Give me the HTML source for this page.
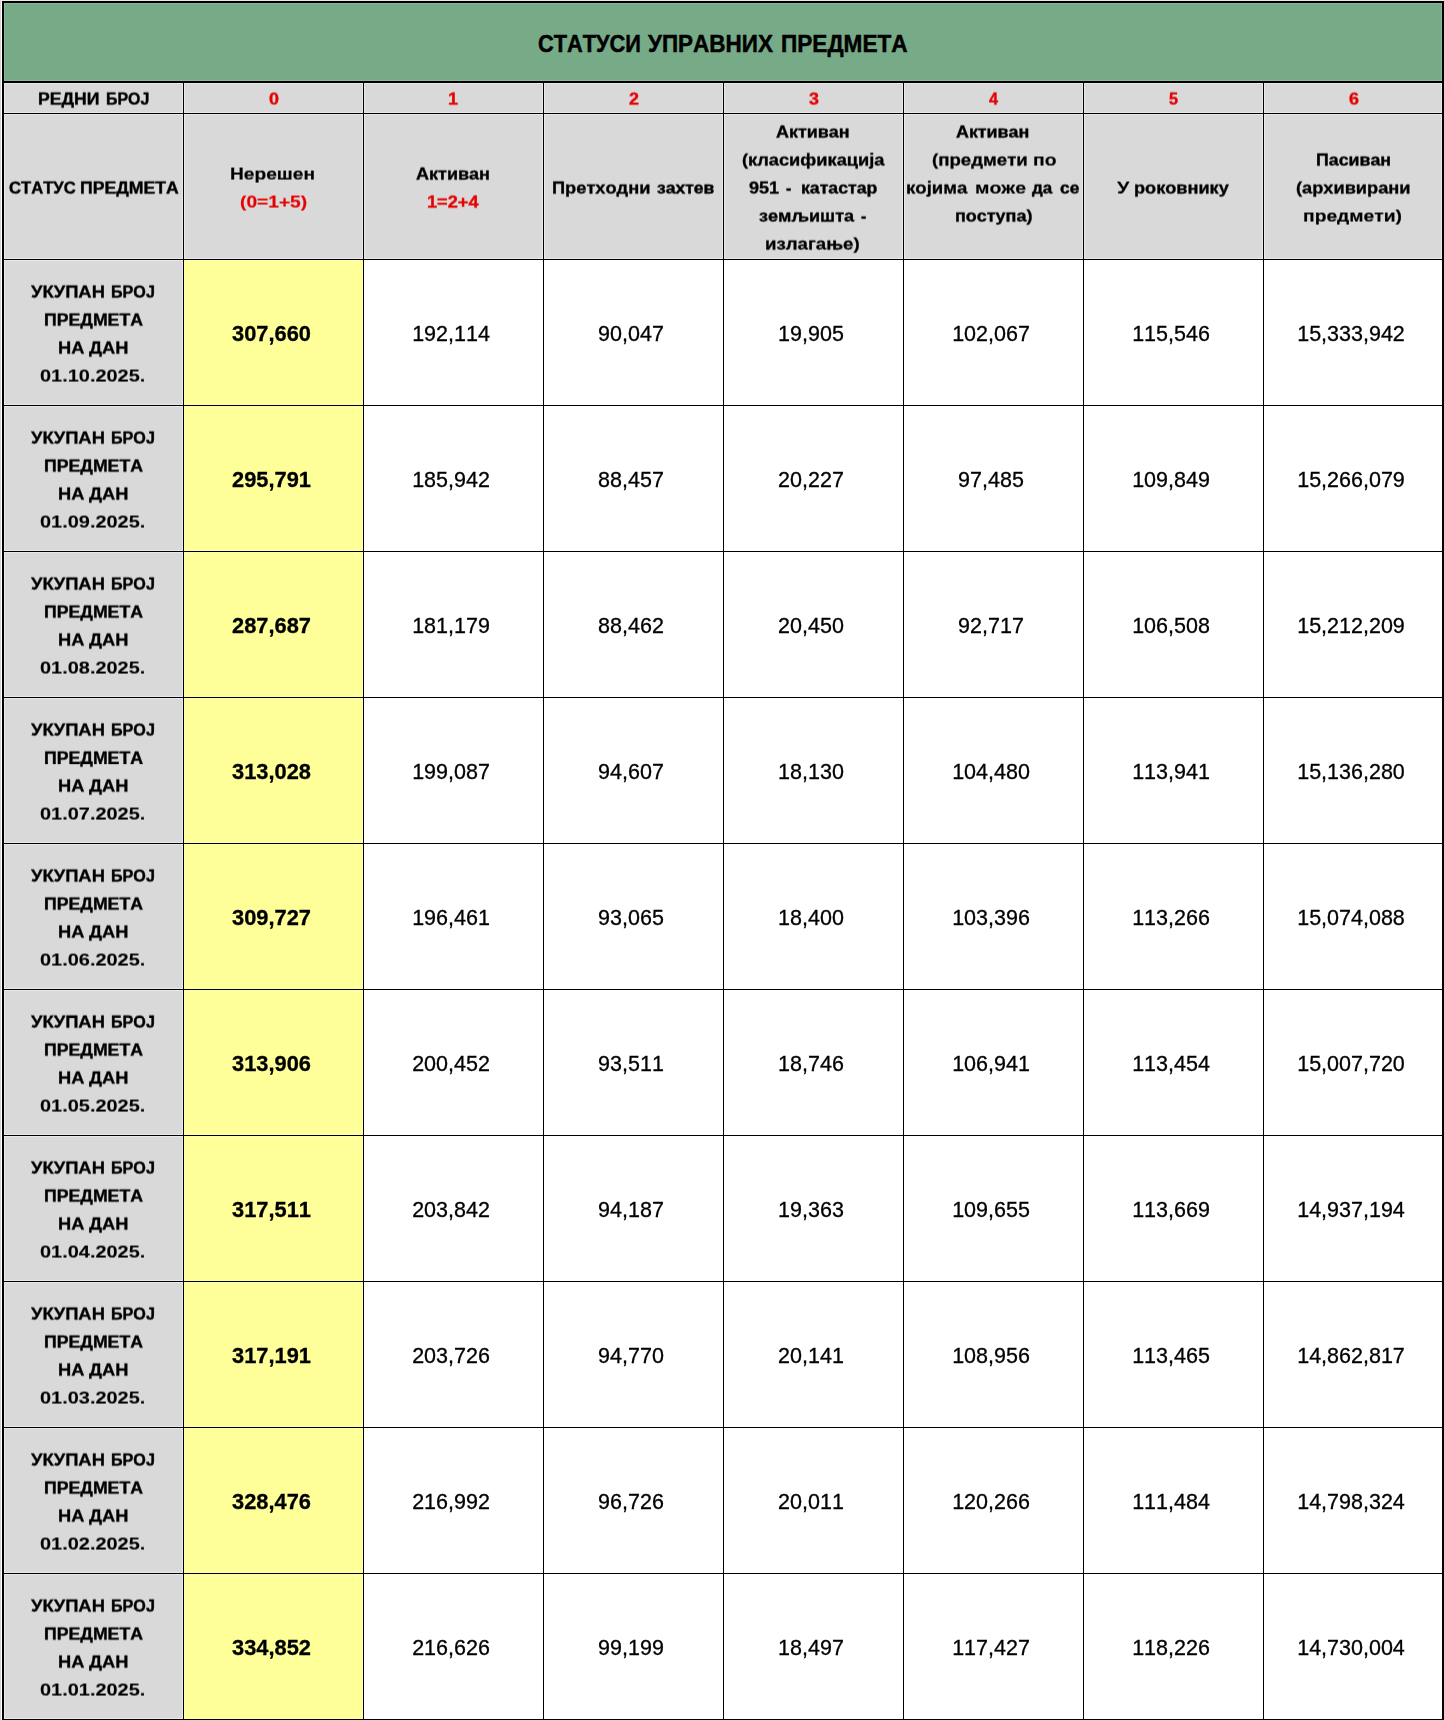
<!DOCTYPE html>
<html lang="sr"><head><meta charset="utf-8"><title>Статуси управних предмета</title>
<style>
html,body{margin:0;padding:0;background:#fff;}
body{width:1444px;height:1720px;position:relative;overflow:hidden;font-family:"Liberation Sans", sans-serif;font-kerning:none;}
.b{position:absolute;}
.gn{background:#77ab88;box-shadow:inset 0 0 0 1px #89b598;}
.gy{background:#d9d9d9;box-shadow:inset 0 0 0 1px #e9e9e9;}
.yl{background:#ffff99;box-shadow:inset 0 0 0 1px #ffffb0;}
.k{position:absolute;background:#000;}
.t{position:absolute;white-space:pre;line-height:1;transform-origin:0 0;font-weight:bold;color:#000;-webkit-text-stroke:0.35px currentColor;}
.tt{-webkit-text-stroke:0.5px currentColor;}
.r{color:#e60000;}
.sh{position:absolute;left:0;top:0;width:1444px;height:1720px;transform-origin:0 0;transform:perspective(10000px) translate3d(0,0.55px,0.01px);}
.n{position:absolute;width:179px;text-align:center;white-space:pre;line-height:1;font-size:21.5px;color:#000;transform:scaleX(1.0);-webkit-text-stroke:0.3px #000;}
.nb{font-weight:bold;transform:scaleX(1.015);-webkit-text-stroke:0.3px #000;}
</style></head><body>
<div class="b" style="left:0;top:0;width:1px;height:1720px;background:#d4d4d4"></div>
<div class="b" style="left:0;top:0;width:1444px;height:1px;background:#e8e8e8"></div>
<div class="b gn" style="left:4px;top:3px;width:1438px;height:78px"></div>
<div class="b gy" style="left:4px;top:83px;width:179px;height:30px"></div>
<div class="b gy" style="left:4px;top:114px;width:179px;height:145px"></div>
<div class="b gy" style="left:184px;top:83px;width:179px;height:30px"></div>
<div class="b gy" style="left:184px;top:114px;width:179px;height:145px"></div>
<div class="b gy" style="left:364px;top:83px;width:179px;height:30px"></div>
<div class="b gy" style="left:364px;top:114px;width:179px;height:145px"></div>
<div class="b gy" style="left:544px;top:83px;width:179px;height:30px"></div>
<div class="b gy" style="left:544px;top:114px;width:179px;height:145px"></div>
<div class="b gy" style="left:724px;top:83px;width:179px;height:30px"></div>
<div class="b gy" style="left:724px;top:114px;width:179px;height:145px"></div>
<div class="b gy" style="left:904px;top:83px;width:179px;height:30px"></div>
<div class="b gy" style="left:904px;top:114px;width:179px;height:145px"></div>
<div class="b gy" style="left:1084px;top:83px;width:179px;height:30px"></div>
<div class="b gy" style="left:1084px;top:114px;width:179px;height:145px"></div>
<div class="b gy" style="left:1264px;top:83px;width:178px;height:30px"></div>
<div class="b gy" style="left:1264px;top:114px;width:178px;height:145px"></div>
<div class="b gy" style="left:4px;top:260px;width:179px;height:145px"></div>
<div class="b yl" style="left:184px;top:260px;width:179px;height:145px"></div>
<div class="b gy" style="left:4px;top:406px;width:179px;height:145px"></div>
<div class="b yl" style="left:184px;top:406px;width:179px;height:145px"></div>
<div class="b gy" style="left:4px;top:552px;width:179px;height:145px"></div>
<div class="b yl" style="left:184px;top:552px;width:179px;height:145px"></div>
<div class="b gy" style="left:4px;top:698px;width:179px;height:145px"></div>
<div class="b yl" style="left:184px;top:698px;width:179px;height:145px"></div>
<div class="b gy" style="left:4px;top:844px;width:179px;height:145px"></div>
<div class="b yl" style="left:184px;top:844px;width:179px;height:145px"></div>
<div class="b gy" style="left:4px;top:990px;width:179px;height:145px"></div>
<div class="b yl" style="left:184px;top:990px;width:179px;height:145px"></div>
<div class="b gy" style="left:4px;top:1136px;width:179px;height:145px"></div>
<div class="b yl" style="left:184px;top:1136px;width:179px;height:145px"></div>
<div class="b gy" style="left:4px;top:1282px;width:179px;height:145px"></div>
<div class="b yl" style="left:184px;top:1282px;width:179px;height:145px"></div>
<div class="b gy" style="left:4px;top:1428px;width:179px;height:145px"></div>
<div class="b yl" style="left:184px;top:1428px;width:179px;height:145px"></div>
<div class="b gy" style="left:4px;top:1574px;width:179px;height:145px"></div>
<div class="b yl" style="left:184px;top:1574px;width:179px;height:145px"></div>
<div class="k" style="left:2px;top:1px;width:1442px;height:2px"></div>
<div class="k" style="left:2px;top:81px;width:1442px;height:2px"></div>
<div class="k" style="left:2px;top:113px;width:1442px;height:1px"></div>
<div class="k" style="left:2px;top:259px;width:1442px;height:1px"></div>
<div class="k" style="left:2px;top:405px;width:1442px;height:1px"></div>
<div class="k" style="left:2px;top:551px;width:1442px;height:1px"></div>
<div class="k" style="left:2px;top:697px;width:1442px;height:1px"></div>
<div class="k" style="left:2px;top:843px;width:1442px;height:1px"></div>
<div class="k" style="left:2px;top:989px;width:1442px;height:1px"></div>
<div class="k" style="left:2px;top:1135px;width:1442px;height:1px"></div>
<div class="k" style="left:2px;top:1281px;width:1442px;height:1px"></div>
<div class="k" style="left:2px;top:1427px;width:1442px;height:1px"></div>
<div class="k" style="left:2px;top:1573px;width:1442px;height:1px"></div>
<div class="k" style="left:2px;top:1719px;width:1442px;height:1px"></div>
<div class="k" style="left:2px;top:1px;width:2px;height:1719px"></div>
<div class="k" style="left:1442px;top:2px;width:2px;height:1718px"></div>
<div class="k" style="left:183px;top:83px;width:1px;height:1637px"></div>
<div class="k" style="left:363px;top:83px;width:1px;height:1637px"></div>
<div class="k" style="left:543px;top:83px;width:1px;height:1637px"></div>
<div class="k" style="left:723px;top:83px;width:1px;height:1637px"></div>
<div class="k" style="left:903px;top:83px;width:1px;height:1637px"></div>
<div class="k" style="left:1083px;top:83px;width:1px;height:1637px"></div>
<div class="k" style="left:1263px;top:83px;width:1px;height:1637px"></div>
<span class="t tt" style="left:537.81px;top:32px;font-size:24.5px;transform:scaleX(0.8883);-webkit-text-stroke-width:0.50px">СТАТУСИ</span>
<span class="t tt" style="left:648.00px;top:32px;font-size:24.5px;transform:scaleX(0.9169);-webkit-text-stroke-width:0.50px">УПРАВНИХ</span>
<span class="t tt" style="left:780.88px;top:32px;font-size:24.5px;transform:scaleX(0.9233);-webkit-text-stroke-width:0.50px">ПРЕДМЕТА</span>
<div class="sh">
<span class="t" style="left:37.78px;top:90px;font-size:17.2px;transform:scaleX(1.0242);-webkit-text-stroke-width:0.43px">РЕДНИ</span>
<span class="t" style="left:105.57px;top:90px;font-size:17.2px;transform:scaleX(0.9251);-webkit-text-stroke-width:0.45px">БРОЈ</span>
<span class="t r" style="left:268.60px;top:90px;font-size:17.2px;transform:scaleX(1.0444);-webkit-text-stroke-width:0.38px">0</span>
<span class="t r" style="left:447.56px;top:90px;font-size:17.2px;transform:scaleX(1.0444);-webkit-text-stroke-width:0.38px">1</span>
<span class="t r" style="left:628.60px;top:90px;font-size:17.2px;transform:scaleX(1.0444);-webkit-text-stroke-width:0.38px">2</span>
<span class="t r" style="left:808.60px;top:90px;font-size:17.2px;transform:scaleX(1.0444);-webkit-text-stroke-width:0.38px">3</span>
<span class="t r" style="left:988.60px;top:90px;font-size:17.2px;transform:scaleX(0.9400);-webkit-text-stroke-width:0.45px">4</span>
<span class="t r" style="left:1168.60px;top:90px;font-size:17.2px;transform:scaleX(0.9400);-webkit-text-stroke-width:0.45px">5</span>
<span class="t r" style="left:1348.80px;top:90px;font-size:17.2px;transform:scaleX(1.0444);-webkit-text-stroke-width:0.38px">6</span>
<span class="t" style="left:8.70px;top:179px;font-size:17.2px;transform:scaleX(0.9677);-webkit-text-stroke-width:0.45px">СТАТУС</span>
<span class="t" style="left:79.97px;top:179px;font-size:17.2px;transform:scaleX(1.0263);-webkit-text-stroke-width:0.43px">ПРЕДМЕТА</span>
<span class="t" style="left:230.19px;top:165px;font-size:17.2px;transform:scaleX(1.1133);-webkit-text-stroke-width:0.20px">Нерешен</span>
<span class="t r" style="left:240.10px;top:193px;font-size:17.2px;transform:scaleX(1.1148);-webkit-text-stroke-width:0.20px">(0=1+5)</span>
<span class="t" style="left:416.10px;top:165px;font-size:17.2px;transform:scaleX(1.0496);-webkit-text-stroke-width:0.36px">Активан</span>
<span class="t r" style="left:427.24px;top:193px;font-size:17.2px;transform:scaleX(1.0562);-webkit-text-stroke-width:0.35px">1=2+4</span>
<span class="t" style="left:551.94px;top:179px;font-size:17.2px;transform:scaleX(1.0606);-webkit-text-stroke-width:0.33px">Претходни</span>
<span class="t" style="left:656.80px;top:179px;font-size:17.2px;transform:scaleX(1.0191);-webkit-text-stroke-width:0.45px">захтев</span>
<span class="t" style="left:776.20px;top:123px;font-size:17.2px;transform:scaleX(1.0425);-webkit-text-stroke-width:0.38px">Активан</span>
<span class="t" style="left:741.70px;top:151px;font-size:17.2px;transform:scaleX(1.0617);-webkit-text-stroke-width:0.33px">(класификација</span>
<span class="t" style="left:748.90px;top:179px;font-size:17.2px;transform:scaleX(1.0509);-webkit-text-stroke-width:0.36px">951</span>
<span class="t" style="left:786.30px;top:179px;font-size:17.2px;transform:scaleX(0.9333);-webkit-text-stroke-width:0.45px">-</span>
<span class="t" style="left:801.27px;top:179px;font-size:17.2px;transform:scaleX(1.0293);-webkit-text-stroke-width:0.42px">катастар</span>
<span class="t" style="left:759.30px;top:207px;font-size:17.2px;transform:scaleX(1.0531);-webkit-text-stroke-width:0.35px">земљишта</span>
<span class="t" style="left:861.10px;top:207px;font-size:17.2px;transform:scaleX(0.9333);-webkit-text-stroke-width:0.45px">-</span>
<span class="t" style="left:765.31px;top:235px;font-size:17.2px;transform:scaleX(1.0862);-webkit-text-stroke-width:0.27px">излагање)</span>
<span class="t" style="left:956.40px;top:123px;font-size:17.2px;transform:scaleX(1.0396);-webkit-text-stroke-width:0.39px">Активан</span>
<span class="t" style="left:931.70px;top:151px;font-size:17.2px;transform:scaleX(1.0836);-webkit-text-stroke-width:0.28px">(предмети</span>
<span class="t" style="left:1033.18px;top:151px;font-size:17.2px;transform:scaleX(1.1248);-webkit-text-stroke-width:0.18px">по</span>
<span class="t" style="left:906.42px;top:179px;font-size:17.2px;transform:scaleX(1.0809);-webkit-text-stroke-width:0.28px">којима</span>
<span class="t" style="left:975.17px;top:179px;font-size:17.2px;transform:scaleX(1.1337);-webkit-text-stroke-width:0.16px">може</span>
<span class="t" style="left:1032.40px;top:179px;font-size:17.2px;transform:scaleX(0.9852);-webkit-text-stroke-width:0.45px">да</span>
<span class="t" style="left:1059.80px;top:179px;font-size:17.2px;transform:scaleX(1.0076);-webkit-text-stroke-width:0.45px">се</span>
<span class="t" style="left:954.66px;top:207px;font-size:17.2px;transform:scaleX(1.0448);-webkit-text-stroke-width:0.38px">поступа)</span>
<span class="t" style="left:1117.40px;top:179px;font-size:17.2px;transform:scaleX(1.1545);-webkit-text-stroke-width:0.11px">У</span>
<span class="t" style="left:1134.34px;top:179px;font-size:17.2px;transform:scaleX(1.0559);-webkit-text-stroke-width:0.35px">роковнику</span>
<span class="t" style="left:1315.57px;top:151px;font-size:17.2px;transform:scaleX(1.0343);-webkit-text-stroke-width:0.40px">Пасиван</span>
<span class="t" style="left:1296.20px;top:179px;font-size:17.2px;transform:scaleX(1.0598);-webkit-text-stroke-width:0.34px">(архивирани</span>
<span class="t" style="left:1303.28px;top:207px;font-size:17.2px;transform:scaleX(1.1200);-webkit-text-stroke-width:0.19px">предмети)</span>
<span class="t" style="left:31.40px;top:283px;font-size:17.2px;transform:scaleX(1.0708);-webkit-text-stroke-width:0.31px">УКУПАН</span>
<span class="t" style="left:111.16px;top:283px;font-size:17.2px;transform:scaleX(0.9383);-webkit-text-stroke-width:0.45px">БРОЈ</span>
<span class="t" style="left:43.97px;top:311px;font-size:17.2px;transform:scaleX(1.0284);-webkit-text-stroke-width:0.42px">ПРЕДМЕТА</span>
<span class="t" style="left:57.94px;top:339px;font-size:17.2px;transform:scaleX(1.0635);-webkit-text-stroke-width:0.33px">НА</span>
<span class="t" style="left:89.10px;top:339px;font-size:17.2px;transform:scaleX(1.0612);-webkit-text-stroke-width:0.33px">ДАН</span>
<span class="t" style="left:40.40px;top:367px;font-size:17.2px;transform:scaleX(1.1597);-webkit-text-stroke-width:0.10px">01.10.2025.</span>
<span class="t" style="left:31.40px;top:429px;font-size:17.2px;transform:scaleX(1.0708);-webkit-text-stroke-width:0.31px">УКУПАН</span>
<span class="t" style="left:111.16px;top:429px;font-size:17.2px;transform:scaleX(0.9383);-webkit-text-stroke-width:0.45px">БРОЈ</span>
<span class="t" style="left:43.97px;top:457px;font-size:17.2px;transform:scaleX(1.0284);-webkit-text-stroke-width:0.42px">ПРЕДМЕТА</span>
<span class="t" style="left:57.94px;top:485px;font-size:17.2px;transform:scaleX(1.0635);-webkit-text-stroke-width:0.33px">НА</span>
<span class="t" style="left:89.10px;top:485px;font-size:17.2px;transform:scaleX(1.0612);-webkit-text-stroke-width:0.33px">ДАН</span>
<span class="t" style="left:40.40px;top:513px;font-size:17.2px;transform:scaleX(1.1597);-webkit-text-stroke-width:0.10px">01.09.2025.</span>
<span class="t" style="left:31.40px;top:575px;font-size:17.2px;transform:scaleX(1.0708);-webkit-text-stroke-width:0.31px">УКУПАН</span>
<span class="t" style="left:111.16px;top:575px;font-size:17.2px;transform:scaleX(0.9383);-webkit-text-stroke-width:0.45px">БРОЈ</span>
<span class="t" style="left:43.97px;top:603px;font-size:17.2px;transform:scaleX(1.0284);-webkit-text-stroke-width:0.42px">ПРЕДМЕТА</span>
<span class="t" style="left:57.94px;top:631px;font-size:17.2px;transform:scaleX(1.0635);-webkit-text-stroke-width:0.33px">НА</span>
<span class="t" style="left:89.10px;top:631px;font-size:17.2px;transform:scaleX(1.0612);-webkit-text-stroke-width:0.33px">ДАН</span>
<span class="t" style="left:40.40px;top:659px;font-size:17.2px;transform:scaleX(1.1597);-webkit-text-stroke-width:0.10px">01.08.2025.</span>
<span class="t" style="left:31.40px;top:721px;font-size:17.2px;transform:scaleX(1.0708);-webkit-text-stroke-width:0.31px">УКУПАН</span>
<span class="t" style="left:111.16px;top:721px;font-size:17.2px;transform:scaleX(0.9383);-webkit-text-stroke-width:0.45px">БРОЈ</span>
<span class="t" style="left:43.97px;top:749px;font-size:17.2px;transform:scaleX(1.0284);-webkit-text-stroke-width:0.42px">ПРЕДМЕТА</span>
<span class="t" style="left:57.94px;top:777px;font-size:17.2px;transform:scaleX(1.0635);-webkit-text-stroke-width:0.33px">НА</span>
<span class="t" style="left:89.10px;top:777px;font-size:17.2px;transform:scaleX(1.0612);-webkit-text-stroke-width:0.33px">ДАН</span>
<span class="t" style="left:40.40px;top:805px;font-size:17.2px;transform:scaleX(1.1597);-webkit-text-stroke-width:0.10px">01.07.2025.</span>
<span class="t" style="left:31.40px;top:867px;font-size:17.2px;transform:scaleX(1.0708);-webkit-text-stroke-width:0.31px">УКУПАН</span>
<span class="t" style="left:111.16px;top:867px;font-size:17.2px;transform:scaleX(0.9383);-webkit-text-stroke-width:0.45px">БРОЈ</span>
<span class="t" style="left:43.97px;top:895px;font-size:17.2px;transform:scaleX(1.0284);-webkit-text-stroke-width:0.42px">ПРЕДМЕТА</span>
<span class="t" style="left:57.94px;top:923px;font-size:17.2px;transform:scaleX(1.0635);-webkit-text-stroke-width:0.33px">НА</span>
<span class="t" style="left:89.10px;top:923px;font-size:17.2px;transform:scaleX(1.0612);-webkit-text-stroke-width:0.33px">ДАН</span>
<span class="t" style="left:40.40px;top:951px;font-size:17.2px;transform:scaleX(1.1597);-webkit-text-stroke-width:0.10px">01.06.2025.</span>
<span class="t" style="left:31.40px;top:1013px;font-size:17.2px;transform:scaleX(1.0708);-webkit-text-stroke-width:0.31px">УКУПАН</span>
<span class="t" style="left:111.16px;top:1013px;font-size:17.2px;transform:scaleX(0.9383);-webkit-text-stroke-width:0.45px">БРОЈ</span>
<span class="t" style="left:43.97px;top:1041px;font-size:17.2px;transform:scaleX(1.0284);-webkit-text-stroke-width:0.42px">ПРЕДМЕТА</span>
<span class="t" style="left:57.94px;top:1069px;font-size:17.2px;transform:scaleX(1.0635);-webkit-text-stroke-width:0.33px">НА</span>
<span class="t" style="left:89.10px;top:1069px;font-size:17.2px;transform:scaleX(1.0612);-webkit-text-stroke-width:0.33px">ДАН</span>
<span class="t" style="left:40.40px;top:1097px;font-size:17.2px;transform:scaleX(1.1597);-webkit-text-stroke-width:0.10px">01.05.2025.</span>
<span class="t" style="left:31.40px;top:1159px;font-size:17.2px;transform:scaleX(1.0708);-webkit-text-stroke-width:0.31px">УКУПАН</span>
<span class="t" style="left:111.16px;top:1159px;font-size:17.2px;transform:scaleX(0.9383);-webkit-text-stroke-width:0.45px">БРОЈ</span>
<span class="t" style="left:43.97px;top:1187px;font-size:17.2px;transform:scaleX(1.0284);-webkit-text-stroke-width:0.42px">ПРЕДМЕТА</span>
<span class="t" style="left:57.94px;top:1215px;font-size:17.2px;transform:scaleX(1.0635);-webkit-text-stroke-width:0.33px">НА</span>
<span class="t" style="left:89.10px;top:1215px;font-size:17.2px;transform:scaleX(1.0612);-webkit-text-stroke-width:0.33px">ДАН</span>
<span class="t" style="left:40.40px;top:1243px;font-size:17.2px;transform:scaleX(1.1597);-webkit-text-stroke-width:0.10px">01.04.2025.</span>
<span class="t" style="left:31.40px;top:1305px;font-size:17.2px;transform:scaleX(1.0708);-webkit-text-stroke-width:0.31px">УКУПАН</span>
<span class="t" style="left:111.16px;top:1305px;font-size:17.2px;transform:scaleX(0.9383);-webkit-text-stroke-width:0.45px">БРОЈ</span>
<span class="t" style="left:43.97px;top:1333px;font-size:17.2px;transform:scaleX(1.0284);-webkit-text-stroke-width:0.42px">ПРЕДМЕТА</span>
<span class="t" style="left:57.94px;top:1361px;font-size:17.2px;transform:scaleX(1.0635);-webkit-text-stroke-width:0.33px">НА</span>
<span class="t" style="left:89.10px;top:1361px;font-size:17.2px;transform:scaleX(1.0612);-webkit-text-stroke-width:0.33px">ДАН</span>
<span class="t" style="left:40.40px;top:1389px;font-size:17.2px;transform:scaleX(1.1597);-webkit-text-stroke-width:0.10px">01.03.2025.</span>
<span class="t" style="left:31.40px;top:1451px;font-size:17.2px;transform:scaleX(1.0708);-webkit-text-stroke-width:0.31px">УКУПАН</span>
<span class="t" style="left:111.16px;top:1451px;font-size:17.2px;transform:scaleX(0.9383);-webkit-text-stroke-width:0.45px">БРОЈ</span>
<span class="t" style="left:43.97px;top:1479px;font-size:17.2px;transform:scaleX(1.0284);-webkit-text-stroke-width:0.42px">ПРЕДМЕТА</span>
<span class="t" style="left:57.94px;top:1507px;font-size:17.2px;transform:scaleX(1.0635);-webkit-text-stroke-width:0.33px">НА</span>
<span class="t" style="left:89.10px;top:1507px;font-size:17.2px;transform:scaleX(1.0612);-webkit-text-stroke-width:0.33px">ДАН</span>
<span class="t" style="left:40.40px;top:1535px;font-size:17.2px;transform:scaleX(1.1597);-webkit-text-stroke-width:0.10px">01.02.2025.</span>
<span class="t" style="left:31.40px;top:1597px;font-size:17.2px;transform:scaleX(1.0708);-webkit-text-stroke-width:0.31px">УКУПАН</span>
<span class="t" style="left:111.16px;top:1597px;font-size:17.2px;transform:scaleX(0.9383);-webkit-text-stroke-width:0.45px">БРОЈ</span>
<span class="t" style="left:43.97px;top:1625px;font-size:17.2px;transform:scaleX(1.0284);-webkit-text-stroke-width:0.42px">ПРЕДМЕТА</span>
<span class="t" style="left:57.94px;top:1653px;font-size:17.2px;transform:scaleX(1.0635);-webkit-text-stroke-width:0.33px">НА</span>
<span class="t" style="left:89.10px;top:1653px;font-size:17.2px;transform:scaleX(1.0612);-webkit-text-stroke-width:0.33px">ДАН</span>
<span class="t" style="left:40.40px;top:1681px;font-size:17.2px;transform:scaleX(1.1597);-webkit-text-stroke-width:0.10px">01.01.2025.</span>
</div>
<div class="n nb" style="left:181.5px;top:324.00px">307,660</div>
<div class="n" style="left:361.5px;top:324.00px">192,114</div>
<div class="n" style="left:541.5px;top:324.00px">90,047</div>
<div class="n" style="left:721.5px;top:324.00px">19,905</div>
<div class="n" style="left:901.5px;top:324.00px">102,067</div>
<div class="n" style="left:1081.5px;top:324.00px">115,546</div>
<div class="n" style="left:1261.5px;top:324.00px">15,333,942</div>
<div class="n nb" style="left:181.5px;top:470.00px">295,791</div>
<div class="n" style="left:361.5px;top:470.00px">185,942</div>
<div class="n" style="left:541.5px;top:470.00px">88,457</div>
<div class="n" style="left:721.5px;top:470.00px">20,227</div>
<div class="n" style="left:901.5px;top:470.00px">97,485</div>
<div class="n" style="left:1081.5px;top:470.00px">109,849</div>
<div class="n" style="left:1261.5px;top:470.00px">15,266,079</div>
<div class="n nb" style="left:181.5px;top:616.00px">287,687</div>
<div class="n" style="left:361.5px;top:616.00px">181,179</div>
<div class="n" style="left:541.5px;top:616.00px">88,462</div>
<div class="n" style="left:721.5px;top:616.00px">20,450</div>
<div class="n" style="left:901.5px;top:616.00px">92,717</div>
<div class="n" style="left:1081.5px;top:616.00px">106,508</div>
<div class="n" style="left:1261.5px;top:616.00px">15,212,209</div>
<div class="n nb" style="left:181.5px;top:762.00px">313,028</div>
<div class="n" style="left:361.5px;top:762.00px">199,087</div>
<div class="n" style="left:541.5px;top:762.00px">94,607</div>
<div class="n" style="left:721.5px;top:762.00px">18,130</div>
<div class="n" style="left:901.5px;top:762.00px">104,480</div>
<div class="n" style="left:1081.5px;top:762.00px">113,941</div>
<div class="n" style="left:1261.5px;top:762.00px">15,136,280</div>
<div class="n nb" style="left:181.5px;top:908.00px">309,727</div>
<div class="n" style="left:361.5px;top:908.00px">196,461</div>
<div class="n" style="left:541.5px;top:908.00px">93,065</div>
<div class="n" style="left:721.5px;top:908.00px">18,400</div>
<div class="n" style="left:901.5px;top:908.00px">103,396</div>
<div class="n" style="left:1081.5px;top:908.00px">113,266</div>
<div class="n" style="left:1261.5px;top:908.00px">15,074,088</div>
<div class="n nb" style="left:181.5px;top:1054.00px">313,906</div>
<div class="n" style="left:361.5px;top:1054.00px">200,452</div>
<div class="n" style="left:541.5px;top:1054.00px">93,511</div>
<div class="n" style="left:721.5px;top:1054.00px">18,746</div>
<div class="n" style="left:901.5px;top:1054.00px">106,941</div>
<div class="n" style="left:1081.5px;top:1054.00px">113,454</div>
<div class="n" style="left:1261.5px;top:1054.00px">15,007,720</div>
<div class="n nb" style="left:181.5px;top:1200.00px">317,511</div>
<div class="n" style="left:361.5px;top:1200.00px">203,842</div>
<div class="n" style="left:541.5px;top:1200.00px">94,187</div>
<div class="n" style="left:721.5px;top:1200.00px">19,363</div>
<div class="n" style="left:901.5px;top:1200.00px">109,655</div>
<div class="n" style="left:1081.5px;top:1200.00px">113,669</div>
<div class="n" style="left:1261.5px;top:1200.00px">14,937,194</div>
<div class="n nb" style="left:181.5px;top:1346.00px">317,191</div>
<div class="n" style="left:361.5px;top:1346.00px">203,726</div>
<div class="n" style="left:541.5px;top:1346.00px">94,770</div>
<div class="n" style="left:721.5px;top:1346.00px">20,141</div>
<div class="n" style="left:901.5px;top:1346.00px">108,956</div>
<div class="n" style="left:1081.5px;top:1346.00px">113,465</div>
<div class="n" style="left:1261.5px;top:1346.00px">14,862,817</div>
<div class="n nb" style="left:181.5px;top:1492.00px">328,476</div>
<div class="n" style="left:361.5px;top:1492.00px">216,992</div>
<div class="n" style="left:541.5px;top:1492.00px">96,726</div>
<div class="n" style="left:721.5px;top:1492.00px">20,011</div>
<div class="n" style="left:901.5px;top:1492.00px">120,266</div>
<div class="n" style="left:1081.5px;top:1492.00px">111,484</div>
<div class="n" style="left:1261.5px;top:1492.00px">14,798,324</div>
<div class="n nb" style="left:181.5px;top:1638.00px">334,852</div>
<div class="n" style="left:361.5px;top:1638.00px">216,626</div>
<div class="n" style="left:541.5px;top:1638.00px">99,199</div>
<div class="n" style="left:721.5px;top:1638.00px">18,497</div>
<div class="n" style="left:901.5px;top:1638.00px">117,427</div>
<div class="n" style="left:1081.5px;top:1638.00px">118,226</div>
<div class="n" style="left:1261.5px;top:1638.00px">14,730,004</div>
</body></html>
